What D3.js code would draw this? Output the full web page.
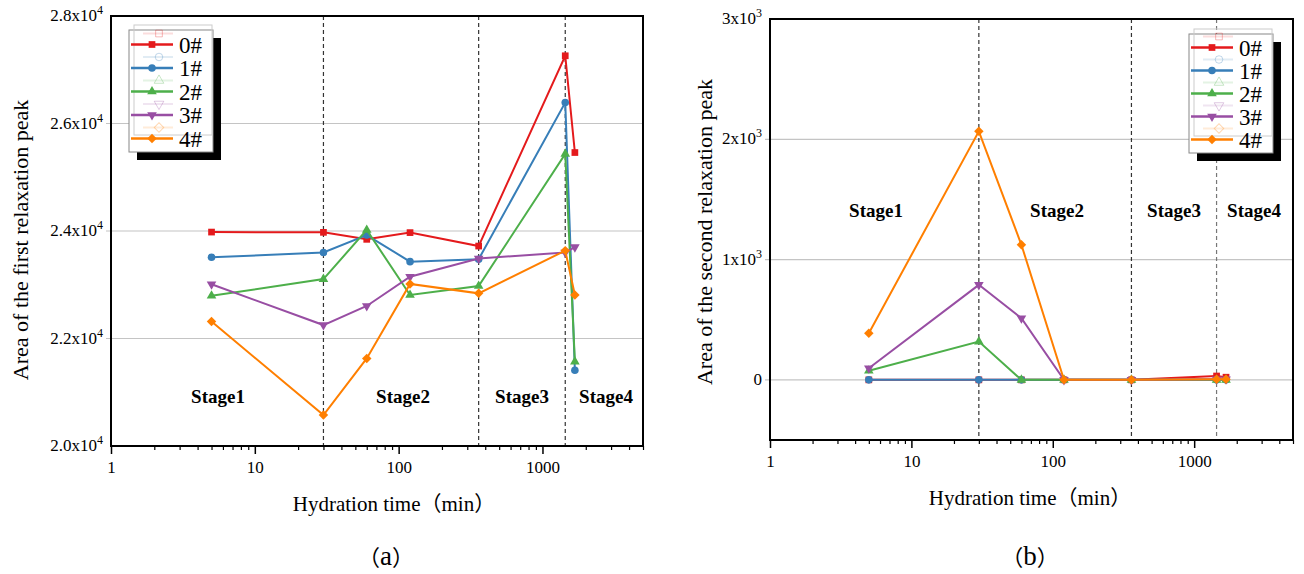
<!DOCTYPE html>
<meta charset="utf-8">
<style>
body { margin: 0; background: #fff; }
text { font-family: "Liberation Serif", "Times New Roman", serif; fill: #000; }
.cjk { font-family: "Noto Sans CJK SC", sans-serif; }
</style>
<body>
<script src="https://cdn.jsdelivr.net/npm/d3@7/dist/d3.min.js"></script>
<script>

// hydration times (min) and sample names
var times = [5, 30, 60, 120, 360, 1440, 1680];
var names = ["0#", "1#", "2#", "3#", "4#"];
var colors = ["#e41a1c", "#377eb8", "#4daf4a", "#984ea3", "#ff7f00"];
var stageBounds = [30, 360, 1440];
var stageNames = ["Stage1", "Stage2", "Stage3", "Stage4"];

// (a) area of the first relaxation peak
var first0 = [23980, 23975, 23845, 23970, 23720, 27260, 25460];
var first1 = [23510, 23600, 23925, 23430, 23475, 26390, 21410];
var first2 = [22795, 23105, 24020, 22810, 22975, 25435, 21570];
var first3 = [23010, 22250, 22605, 23150, 23490, 23600, 23700];
var first4 = [22315, 20575, 21630, 23015, 22840, 23635, 22810];

// (b) area of the second relaxation peak
var second0 = [0, 0, 0, 0, 0, 32, 22];
var second1 = [0, 0, 0, 0, 0, 0, 0];
var second2 = [75, 318, 0, 0, 0, 0, 0];
var second3 = [97, 790, 512, 0, 0, 5, 5];
var second4 = [388, 2066, 1123, 0, 0, 5, 5];

var yTicksA = [20000, 22000, 24000, 26000, 28000];
var yLabelsA = ["2.0", "2.2", "2.4", "2.6", "2.8"];
var yTicksB = [0, 1000, 2000, 3000];
var yLabelsB = ["0", "1", "2", "3"];
var xTicks = [1, 10, 100, 1000];

var svg = d3.select("body").append("svg")
    .attr("width", 1304)
    .attr("height", 574);

var panels = [
  { left: 111, right: 643, top: 16, bottom: 446, ydom: [20000, 28000],
    data: [first0, first1, first2, first3, first4],
    yTicks: yTicksA, yLabels: yLabelsA, exp: "4", grid: [22000, 24000, 26000],
    ytitle: "Area of the first relaxation peak", ytitleX: 28, ytitleY: 240,
    stageY: 403, stageX: [218, 403, 522, 606],
    legend: { x: 129, y: 30, w: 84, h: 122, rowY: 44.5, step: 23.5 },
    xtitleX: 394, tagX: 386, tag: "a" },
  { left: 770, right: 1293, top: 19, bottom: 440, ydom: [-500, 3000],
    data: [second0, second1, second2, second3, second4],
    yTicks: yTicksB, yLabels: yLabelsB, exp: "3", grid: [0, 1000, 2000],
    ytitleX: 712, ytitleY: 232, ytitle: "Area of the second relaxation peak",
    stageY: 217, stageX: [876, 1057, 1174, 1254],
    legend: { x: 1189, y: 34, w: 84, h: 119, rowY: 47.5, step: 23 },
    xtitleX: 1030, tagX: 1030, tag: "b" }
];

function markerPath(i) {
  if (i === 0) return d3.symbol().type(d3.symbolSquare).size(45)();
  if (i === 1) return d3.symbol().type(d3.symbolCircle).size(45)();
  if (i === 2 || i === 3) return d3.symbol().type(d3.symbolTriangle).size(40)();
  return d3.symbol().type(d3.symbolSquare).size(45)();
}
function markerRot(i) {
  if (i === 3) return " rotate(180)";
  if (i === 4) return " rotate(45)";
  return "";
}

panels.forEach(function(p) {
  var x = d3.scaleLog().domain([1, 5000]).range([p.left, p.right]);
  var y = d3.scaleLinear().domain(p.ydom).range([p.bottom, p.top]);
  var g = svg.append("g");

  // gridlines
  g.selectAll(".grid").data(p.grid).enter().append("line")
      .attr("x1", p.left - 5).attr("x2", p.right)
      .attr("y1", function(d) { return y(d); })
      .attr("y2", function(d) { return y(d); })
      .attr("stroke", "#c4c4c4").attr("stroke-width", 1.2);

  // stage boundaries
  g.selectAll(".stage").data(stageBounds).enter().append("line")
      .attr("x1", function(d) { return x(d); })
      .attr("x2", function(d) { return x(d); })
      .attr("y1", p.top).attr("y2", p.bottom)
      .attr("stroke", function(d, i) { return i === 2 && p.exp === "3" ? "#777" : "#333"; })
      .attr("stroke-width", 1.2)
      .attr("stroke-dasharray", "4,3");

  // x axis major + minor ticks
  var minor = [];
  [1, 10, 100, 1000].forEach(function(d) {
    for (var k = 2; k <= 9; k++) if (d * k <= 5000) minor.push(d * k);
  });
  var ax = g.append("g")
      .attr("transform", "translate(0," + p.bottom + ")")
      .call(d3.axisBottom(x).tickValues(xTicks).tickSize(8).tickPadding(7)
        .tickFormat(d3.format("d")));
  ax.select(".domain").remove();
  ax.selectAll("line").attr("stroke-width", 1.5);
  ax.selectAll("text").style("font-size", "17px")
      .style("font-family", "Liberation Serif");
  var axm = g.append("g")
      .attr("transform", "translate(0," + p.bottom + ")")
      .call(d3.axisBottom(x).tickValues(minor).tickSize(4).tickFormat(""));
  axm.select(".domain").remove();
  axm.selectAll("line").attr("stroke-width", 1.2);

  // y tick labels with superscript exponent
  var yl = g.selectAll(".ylab").data(p.yTicks).enter().append("text")
      .attr("x", p.left - 8)
      .attr("y", function(d) { return y(d) + 5; })
      .attr("text-anchor", "end")
      .style("font-size", "17px");
  yl.each(function(d, i) {
    var t = d3.select(this);
    if (d === 0) { t.text("0"); return; }
    t.append("tspan").text(p.yLabels[i] + "x10");
    t.append("tspan").attr("dy", -7).style("font-size", "12px").text(p.exp);
  });

  // frame
  g.append("rect")
      .attr("x", p.left).attr("y", p.top)
      .attr("width", p.right - p.left).attr("height", p.bottom - p.top)
      .attr("fill", "none").attr("stroke", "#000").attr("stroke-width", 2);

  // series
  var line = d3.line()
      .x(function(d, i) { return x(times[i]); })
      .y(function(d) { return y(d); });
  p.data.forEach(function(vals, si) {
    g.append("path").datum(vals)
        .attr("d", line)
        .attr("fill", "none")
        .attr("stroke", colors[si])
        .attr("stroke-width", 2);
    g.selectAll(".m" + si).data(vals).enter().append("path")
        .attr("d", markerPath(si))
        .attr("transform", function(d, i) {
          return "translate(" + x(times[i]) + "," + y(d) + ")" + markerRot(si);
        })
        .attr("fill", colors[si]);
  });

  // stage labels
  g.selectAll(".stlab").data(stageNames).enter().append("text")
      .attr("x", function(d, i) { return p.stageX[i]; })
      .attr("y", p.stageY)
      .attr("text-anchor", "middle")
      .style("font-size", "19px").style("font-weight", "bold")
      .text(function(d) { return d; });

  // axis titles
  g.append("text")
      .attr("transform", "translate(" + p.ytitleX + "," + p.ytitleY + ") rotate(-90)")
      .attr("text-anchor", "middle")
      .style("font-size", "22px")
      .text(p.ytitle);
  var xt = g.append("text")
      .attr("x", p.xtitleX)
      .attr("y", p.exp === "4" ? 511 : 505)
      .attr("text-anchor", "middle")
      .style("font-size", "21px");
  xt.append("tspan").text("Hydration time");
  xt.append("tspan").attr("class", "cjk").text("\uff08");
  xt.append("tspan").text("min");
  xt.append("tspan").attr("class", "cjk").text("\uff09");
  var tg = g.append("text")
      .attr("x", p.tagX)
      .attr("y", 565)
      .attr("text-anchor", "middle")
      .style("font-size", "27px");
  tg.append("tspan").attr("class", "cjk").style("font-size", "22px").text("\uff08");
  tg.append("tspan").text(p.tag);
  tg.append("tspan").attr("class", "cjk").style("font-size", "22px").text("\uff09");

  // legend with shadow and faint ghost copy
  var L = p.legend;
  g.append("rect").attr("x", L.x + 8).attr("y", L.y + 8)
      .attr("width", L.w).attr("height", L.h).attr("fill", "#000");
  g.append("rect").attr("x", L.x).attr("y", L.y)
      .attr("width", L.w).attr("height", L.h)
      .attr("fill", "#fff").attr("stroke", "#888").attr("stroke-width", 1);
  g.append("rect").attr("x", L.x + 5).attr("y", L.y - 5)
      .attr("width", L.w - 6).attr("height", L.h - 12)
      .attr("fill", "none").attr("stroke", "#ccc").attr("stroke-width", 1);
  names.forEach(function(n, si) {
    var ry = L.rowY + si * L.step;
    // ghost entry
    g.append("line").attr("x1", L.x + 14).attr("x2", L.x + 44)
        .attr("y1", ry - 11).attr("y2", ry - 11)
        .attr("stroke", colors[si]).attr("stroke-opacity", 0.15).attr("stroke-width", 2);
    g.append("path").attr("d", markerPath(si))
        .attr("transform", "translate(" + (L.x + 30) + "," + (ry - 11) + ")" + markerRot(si))
        .attr("fill", "none").attr("stroke", colors[si]).attr("stroke-opacity", 0.3);
    g.append("line").attr("x1", L.x + 2).attr("x2", L.x + 44)
        .attr("y1", ry).attr("y2", ry)
        .attr("stroke", colors[si]).attr("stroke-width", 2.5);
    g.append("path").attr("d", markerPath(si))
        .attr("transform", "translate(" + (L.x + 23) + "," + ry + ")" + markerRot(si))
        .attr("fill", colors[si]);
    g.append("text").attr("x", L.x + 50).attr("y", ry + 8)
        .style("font-size", "23px").text(n);
  });
});

</script>
</body>
